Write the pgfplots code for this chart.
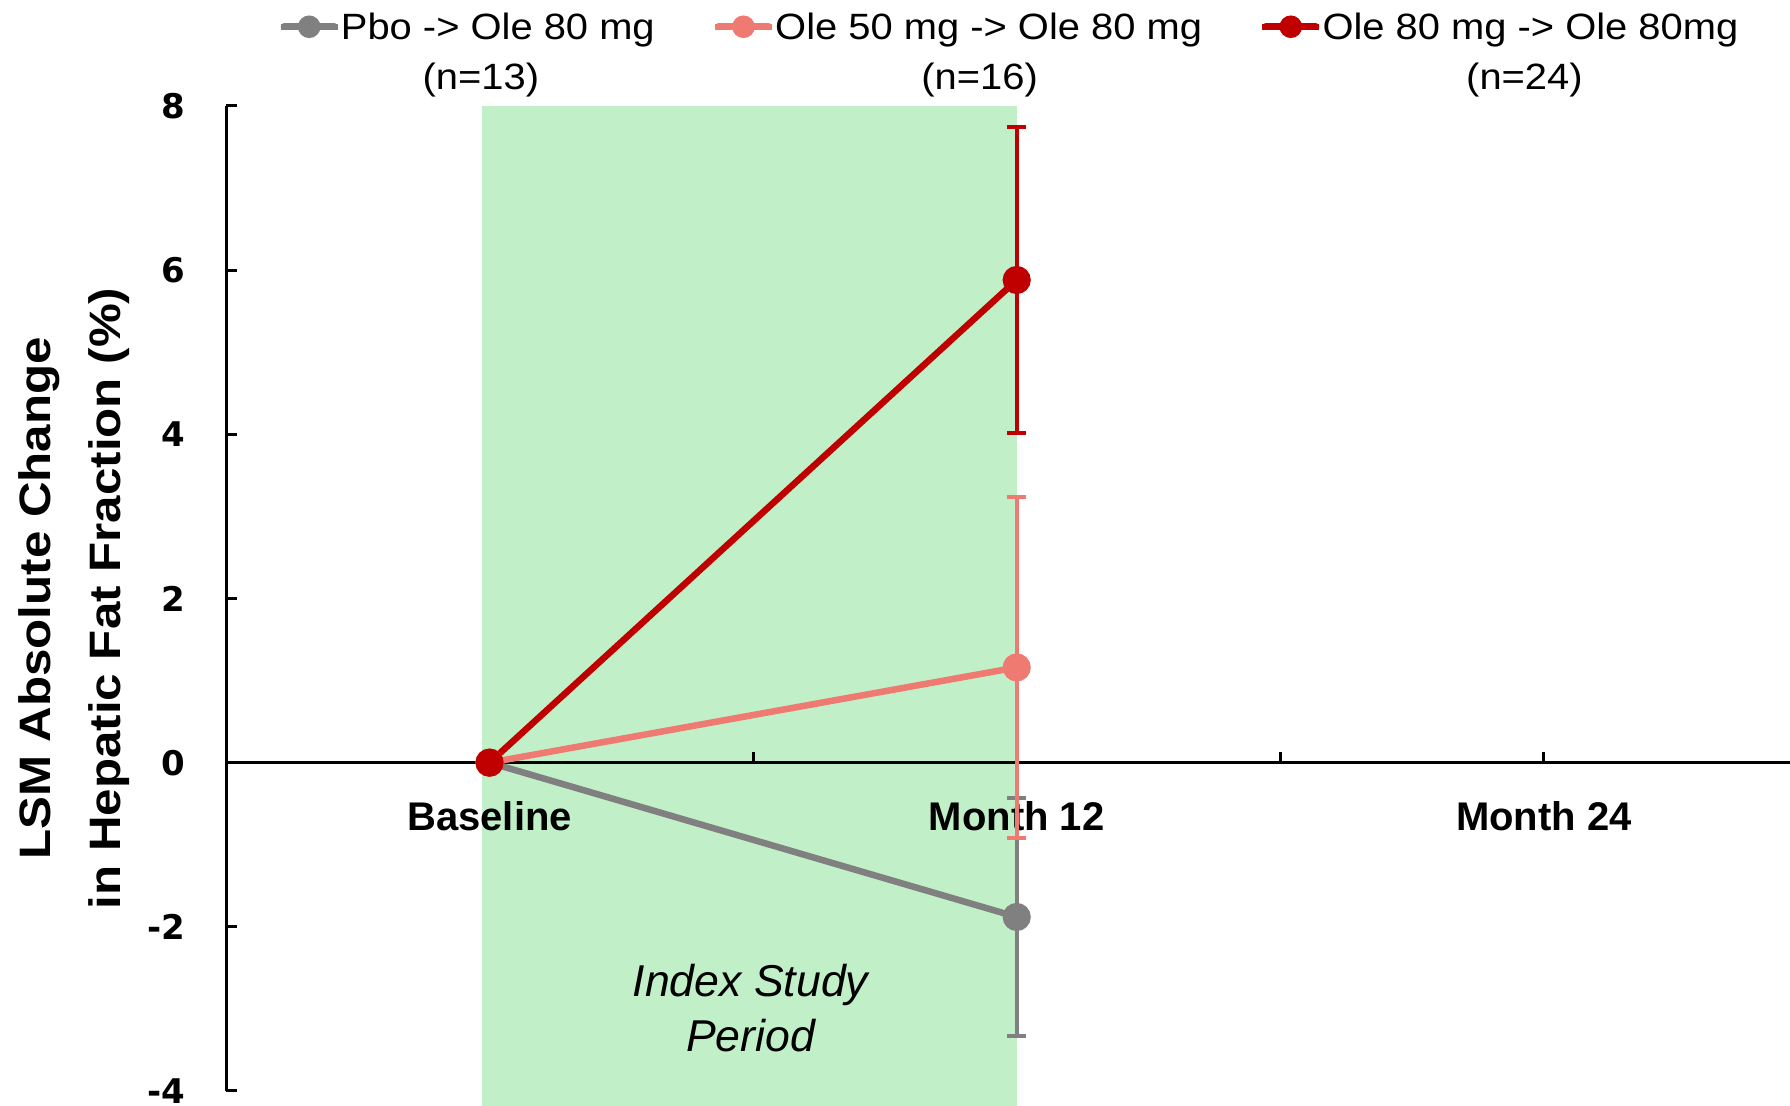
\documentclass[border=0pt]{standalone}
\usepackage{pgfplots}
\pgfplotsset{compat=1.18}
\usepackage{fontspec}
\setmainfont{Liberation Sans}
\newfontfamily\legendfont[FakeStretch=1.09]{Liberation Sans}
\newfontfamily\labelfont[FakeStretch=1.12]{Liberation Sans}
\newfontfamily\tickfont{DejaVu Sans}

\definecolor{pbogray}{RGB}{128,128,128}
\definecolor{olesalmon}{RGB}{238,122,114}
\definecolor{olered}{RGB}{192,0,0}
\definecolor{indexgreen}{RGB}{193,240,200}

\begin{document}
\begin{tikzpicture}
\begin{axis}[
  at={(113pt,7.5pt)}, anchor=south west,
  scale only axis, width=782pt, height=492.5pt,
  xmin=-0.5, xmax=2.467, ymin=-4, ymax=8,
  clip=false, set layers,
  axis y line=left, axis x line=middle,
  axis line style={-, line width=1.5pt, black},
  xtick={0,0.5,1,1.5,2},
  xticklabels={Baseline,,Month 12,,Month 24},
  ytick={-4,-2,0,2,4,6,8},
  yticklabels={-4,-2,0,2,4,6,8},
  tick align=inside, major tick length=5.5pt,
  tick style={line width=1.5pt, black},
  xticklabel style={font=\fontsize{20}{24}\selectfont\bfseries, anchor=base, inner sep=0pt, yshift=-34pt},
  yticklabel style={font=\tickfont\bfseries\fontsize{17}{20}\selectfont, anchor=east, inner sep=0pt, xshift=-20pt},
  legend columns=3,
  legend style={draw=none, fill=none,
    at={(axis description cs:0.0329,1.0985)}, anchor=north west,
    inner sep=0pt, outer sep=0pt, row sep=0pt,
    font=\legendfont\fontsize{18.3}{22}\selectfont,
    nodes={inner sep=0pt},
    cells={anchor=base west},
    /tikz/every odd column/.append style={column sep=0pt},
    /tikz/every even column/.append style={column sep=28.5pt}},
  legend image code/.code={
    \path (0pt,6.5pt) -- (28.5pt,6.5pt);
    \draw[#1, line width=3.5pt, line cap=round] (1.75pt,6.5pt) -- (26.75pt,6.5pt);
    \fill[#1] (14.25pt,6.5pt) circle (4pt);
  },
]

% shaded index study period
\addplot[on layer=axis background, fill=indexgreen, draw=none, forget plot]
  coordinates {(-0.0137,-4.4) (1.0,-4.4) (1.0,8) (-0.0137,8)} -- cycle;

% Pbo -> Ole 80 mg
\addplot[pbogray, line width=3.25pt, mark=*, mark size=5.4pt,
  mark options={solid, draw=none, fill=pbogray},
  error bars/.cd, y dir=both, y explicit,
  error bar style={line width=2.1pt, pbogray},
  error mark options={rotate=90, mark size=4.7pt, line width=2.1pt, draw=pbogray}]
  coordinates {(0,0) +- (0,0) (1,-1.88) +- (0,1.45)};
\addlegendentry{\begin{tabular}[t]{@{}c@{}}Pbo -> Ole 80 mg\\[3pt]\hspace*{-17pt}(n=13)\end{tabular}}

% Ole 50 mg -> Ole 80 mg
\addplot[olesalmon, line width=3.25pt, mark=*, mark size=5.4pt,
  mark options={solid, draw=none, fill=olesalmon},
  error bars/.cd, y dir=both, y explicit,
  error bar style={line width=2.1pt, olesalmon},
  error mark options={rotate=90, mark size=4.7pt, line width=2.1pt, draw=olesalmon}]
  coordinates {(0,0) +- (0,0) (1,1.16) +- (0,2.08)};
\addlegendentry{\begin{tabular}[t]{@{}c@{}}Ole 50 mg -> Ole 80 mg\\[3pt]\hspace*{-9pt}(n=16)\end{tabular}}

% Ole 80 mg -> Ole 80 mg
\addplot[olered, line width=3.25pt, mark=*, mark size=5.4pt,
  mark options={solid, draw=none, fill=olered},
  error bars/.cd, y dir=both, y explicit,
  error bar style={line width=2.1pt, olered},
  error mark options={rotate=90, mark size=4.7pt, line width=2.1pt, draw=olered}]
  coordinates {(0,0) +- (0,0) (1,5.88) +- (0,1.86)};
\addlegendentry{\begin{tabular}[t]{@{}c@{}}Ole 80 mg -> Ole 80mg\\[3pt]\hspace*{-6pt}(n=24)\end{tabular}}

\node[anchor=base, inner sep=0pt, font=\itshape\fontsize{22.3}{27.5}\selectfont]
  at (axis cs:0.495,-2.85)
  {\begin{tabular}[t]{@{}c@{}}Index Study\\Period\end{tabular}};

\node[rotate=90, anchor=base, inner sep=0pt, font=\labelfont\bfseries\fontsize{22}{35}\selectfont]
  at (axis description cs:-0.1125,0.5)
  {\begin{tabular}[t]{@{}c@{}}LSM Absolute Change\\in Hepatic Fat Fraction (\%)\end{tabular}};
\end{axis}
% fixed page frame
\pgfresetboundingbox
\path[use as bounding box] (0,0) rectangle (895pt,553pt);
\end{tikzpicture}
\end{document}
